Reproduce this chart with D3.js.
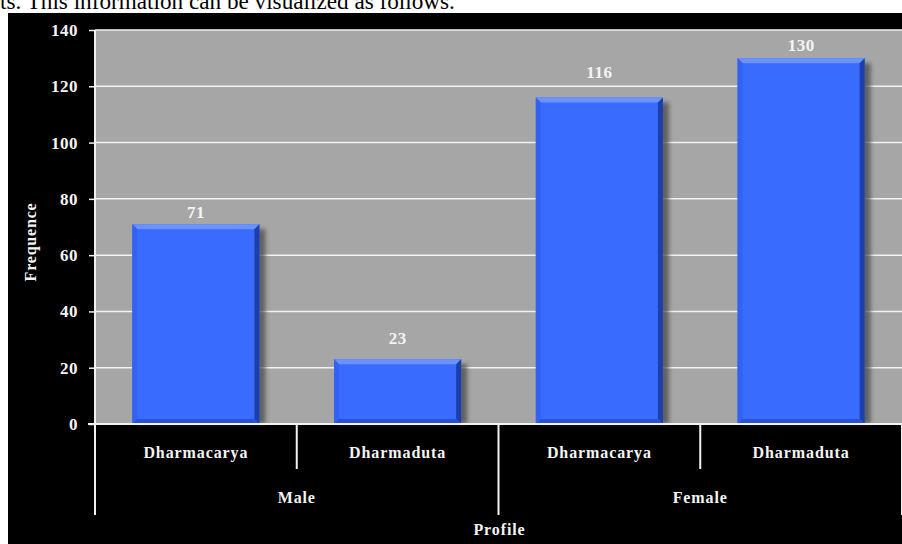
<!DOCTYPE html>
<html>
<head>
<meta charset="utf-8">
<script src="https://cdn.jsdelivr.net/npm/d3@7/dist/d3.min.js"></script>
<style>
  html, body { margin: 0; padding: 0; background: #fff; }
  svg { display: block; }
</style>
</head>
<body>
<script>
// chart values
const genders = ['Male', 'Female'];
const profiles = ['Dharmacarya', 'Dharmaduta', 'Dharmacarya', 'Dharmaduta'];
const profileGender = ['Male', 'Male', 'Female', 'Female'];
const counts = [71, 23, 116, 130];
const yTicks = [0, 20, 40, 60, 80, 100, 120, 140];

const width = 902;
const height = 544;
const plot = { left: 95, right: 902, top: 30, bottom: 424 };

// label nudges (px above bar top), as placed in the source chart
const labelLift = [17, 26, 31, 18];

const svg = d3.select('body')
  .append('svg')
  .attr('width', width)
  .attr('height', height);

const defs = svg.append('defs');
defs.append('filter')
  .attr('id', 'barShadow')
  .attr('x', '-20%').attr('y', '-20%')
  .attr('width', '140%').attr('height', '140%')
  .append('feGaussianBlur')
  .attr('stdDeviation', 2.2);

// leading sentence of the page, cut off at the top
svg.append('text')
  .attr('x', 0)
  .attr('y', 9)
  .attr('font-family', '"Liberation Serif", "Times New Roman", serif')
  .attr('font-size', 23.2)
  .attr('fill', '#000')
  .text('ts. This information can be visualized as follows.');

// black chart frame
svg.append('rect')
  .attr('x', 8).attr('y', 13)
  .attr('width', width - 8).attr('height', height - 13)
  .attr('fill', '#000');

const keys = counts.map((d, i) => i);

const x = d3.scaleBand()
  .domain(keys)
  .range([plot.left, plot.right])
  .paddingInner(0.37)
  .paddingOuter(0.185);

const y = d3.scaleLinear()
  .domain([0, 140])
  .range([plot.bottom, plot.top]);

// plot area
svg.append('rect')
  .attr('x', plot.left).attr('y', plot.top)
  .attr('width', plot.right - plot.left).attr('height', plot.bottom - plot.top)
  .attr('fill', '#a6a6a6');

// gridlines
svg.append('g')
  .selectAll('line')
  .data(yTicks.filter(t => t > 0))
  .join('line')
  .attr('x1', plot.left).attr('x2', plot.right)
  .attr('y1', d => y(d)).attr('y2', d => y(d))
  .attr('stroke', '#f2f2f2')
  .attr('stroke-width', 1.5);

const font = '"Liberation Serif", "Times New Roman", serif';

// bars
const bars = svg.append('g')
  .selectAll('g')
  .data(keys)
  .join('g');

bars.append('rect')
  .attr('x', d => x(d) + 4)
  .attr('y', d => y(counts[d]) + 5)
  .attr('width', x.bandwidth() + 2)
  .attr('height', d => plot.bottom - y(counts[d]) - 5)
  .attr('fill', '#4a4a4a')
  .attr('opacity', 0.75)
  .attr('filter', 'url(#barShadow)');

bars.append('rect')
  .attr('x', d => x(d))
  .attr('y', d => y(counts[d]))
  .attr('width', x.bandwidth())
  .attr('height', d => plot.bottom - y(counts[d]))
  .attr('fill', '#3a6bff');

const bevel = 5;
const side = (d, which) => {
  const x0 = x(d);
  const x1 = x(d) + x.bandwidth();
  const y0 = y(counts[d]);
  const y1 = plot.bottom;
  const b = bevel;
  if (which === 'top') return [[x0, y0], [x1, y0], [x1 - b, y0 + b], [x0 + b, y0 + b]];
  if (which === 'right') return [[x1, y0], [x1, y1], [x1 - b, y1 - b], [x1 - b, y0 + b]];
  if (which === 'bottom') return [[x0, y1], [x1, y1], [x1 - b, y1 - b], [x0 + b, y1 - b]];
  return [[x0, y0], [x0 + b, y0 + b], [x0 + b, y1 - b], [x0, y1]];
};
const bevelFill = { top: '#6a93ff', left: '#3362f2', right: '#1d3fa8', bottom: '#2a52d0' };

['top', 'left', 'right', 'bottom'].forEach((which) => {
  bars.append('polygon')
    .attr('points', d => side(d, which).map(p => p.join(',')).join(' '))
    .attr('fill', bevelFill[which]);
});

// value labels
bars.append('text')
  .attr('x', d => x(d) + x.bandwidth() / 2)
  .attr('y', d => y(counts[d]) - labelLift[d] + 11)
  .attr('text-anchor', 'middle')
  .attr('font-family', font)
  .attr('font-weight', 'bold')
  .attr('font-size', 17)
  .attr('letter-spacing', 0.5)
  .attr('fill', '#f4f4f4')
  .text(d => counts[d]);

// y axis
const yAxis = svg.append('g')
  .attr('transform', `translate(${plot.left},0)`)
  .call(d3.axisLeft(y).tickValues(yTicks).tickSize(6).tickPadding(11));

yAxis.select('.domain')
  .attr('stroke', '#f2f2f2')
  .attr('stroke-width', 2)
  .attr('d', `M0,${plot.top}V${plot.bottom}`);
yAxis.selectAll('.tick line')
  .attr('stroke', '#f2f2f2')
  .attr('stroke-width', 1.5);
yAxis.selectAll('.tick text')
  .attr('font-family', font)
  .attr('font-weight', 'bold')
  .attr('font-size', 17)
  .attr('letter-spacing', 0.5)
  .attr('fill', '#f4f4f4');

svg.append('text')
  .attr('transform', `translate(36,${(plot.top + plot.bottom) / 2 + 15}) rotate(-90)`)
  .attr('text-anchor', 'middle')
  .attr('font-family', font)
  .attr('font-weight', 'bold')
  .attr('font-size', 16)
  .attr('letter-spacing', 0.8)
  .attr('fill', '#f4f4f4')
  .text('Frequence');

// x axis line
svg.append('line')
  .attr('x1', plot.left - 7).attr('x2', plot.right)
  .attr('y1', plot.bottom).attr('y2', plot.bottom)
  .attr('stroke', '#f2f2f2')
  .attr('stroke-width', 2);

// category dividers
const step = x.step();
const boundaries = d3.range(keys.length + 1).map(i => plot.left + i * step);
svg.append('g')
  .selectAll('line')
  .data(boundaries)
  .join('line')
  .attr('x1', d => d).attr('x2', d => d)
  .attr('y1', plot.bottom)
  .attr('y2', (d, i) => (i % 2 === 1 ? 469 : 515))
  .attr('stroke', '#f2f2f2')
  .attr('stroke-width', 2);

// category labels
svg.append('g')
  .selectAll('text')
  .data(keys)
  .join('text')
  .attr('x', d => x(d) + x.bandwidth() / 2)
  .attr('y', 458)
  .attr('text-anchor', 'middle')
  .attr('font-family', font)
  .attr('font-weight', 'bold')
  .attr('font-size', 16)
  .attr('letter-spacing', 0.9)
  .attr('fill', '#f4f4f4')
  .text(d => profiles[d]);

// gender labels
svg.append('g')
  .selectAll('text')
  .data(genders)
  .join('text')
  .attr('x', g => {
    const idx = keys.filter(k => profileGender[k] === g);
    return (boundaries[idx[0]] + boundaries[idx[idx.length - 1] + 1]) / 2;
  })
  .attr('y', 503)
  .attr('text-anchor', 'middle')
  .attr('font-family', font)
  .attr('font-weight', 'bold')
  .attr('font-size', 16)
  .attr('letter-spacing', 0.9)
  .attr('fill', '#f4f4f4')
  .text(g => g);

svg.append('text')
  .attr('x', (plot.left + plot.right) / 2 + 1)
  .attr('y', 535)
  .attr('text-anchor', 'middle')
  .attr('font-family', font)
  .attr('font-weight', 'bold')
  .attr('font-size', 16)
  .attr('letter-spacing', 0.9)
  .attr('fill', '#f4f4f4')
  .text('Profile');
</script>
</body>
</html>
